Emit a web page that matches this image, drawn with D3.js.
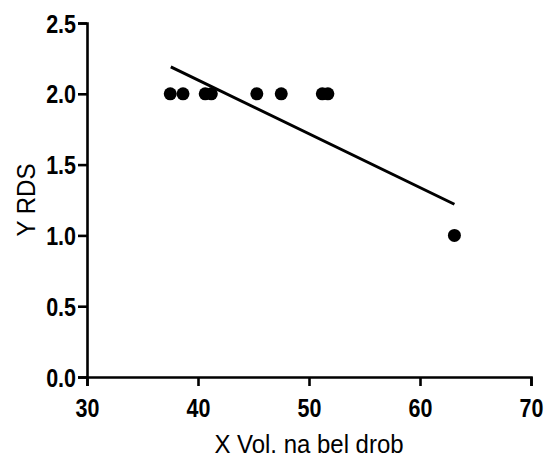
<!DOCTYPE html>
<html>
<head>
<meta charset="utf-8">
<script src="https://cdn.jsdelivr.net/npm/d3@7"></script>
<style>
  body { margin: 0; background: #fff; }
  text { font-family: "Liberation Sans", Arial, sans-serif; }
</style>
</head>
<body>
<svg id="mainsvg" width="545" height="461"></svg>
<script>
// data
const xVals = [37.5, 38.65, 40.65, 41.2, 45.3, 47.5, 51.2, 51.7, 63.1];
const yVals = [2, 2, 2, 2, 2, 2, 2, 2, 1];
const fitX = [37.55, 63.1];
const fitY = [2.19, 1.22];
const xTicks = [30, 40, 50, 60, 70];
const yTicks = [0, 0.5, 1, 1.5, 2, 2.5];

const svg = d3.select('#mainsvg');
const margin = { top: 23, right: 14, bottom: 84, left: 87 };
const width = +svg.attr('width');
const height = +svg.attr('height');
const innerWidth = width - margin.left - margin.right;
const innerHeight = height - margin.top - margin.bottom;
const squeeze = 0.86; // reference glyphs are narrow

const g = svg.append('g')
  .attr('transform', `translate(${margin.left}, ${margin.top})`);

const x = d3.scaleLinear().domain([30, 70]).range([0, innerWidth]);
const y = d3.scaleLinear().domain([0, 2.5]).range([innerHeight, 0]);

const xAxis = g.append('g')
  .attr('transform', `translate(0, ${innerHeight})`)
  .call(d3.axisBottom(x).tickValues(xTicks).tickSize(9).tickPadding(13).tickFormat(d3.format('d')));
const yAxis = g.append('g')
  .call(d3.axisLeft(y).tickValues(yTicks).tickSize(9).tickPadding(2).tickFormat(d3.format('.1f')));

[xAxis, yAxis].forEach(a => {
  a.select('.domain').attr('stroke', '#000').attr('stroke-width', 2.6);
  a.selectAll('.tick line').attr('stroke', '#000').attr('stroke-width', 2.6);
  a.selectAll('.tick text')
    .attr('fill', '#000')
    .style('font-size', '25px')
    .style('font-weight', 'bold')
    .attr('transform', `scale(${squeeze},1)`);
});
yAxis.selectAll('.tick text')
  .attr('dy', '0.36em')
  .attr('x', -11 / squeeze);

// fit line
g.append('line')
  .attr('x1', x(fitX[0])).attr('y1', y(fitY[0]))
  .attr('x2', x(fitX[1])).attr('y2', y(fitY[1]))
  .attr('stroke', '#000')
  .attr('stroke-width', 3);

// points
g.selectAll('circle')
  .data(xVals.map((v, i) => ({ x: v, y: yVals[i] })))
  .join('circle')
  .attr('cx', d => x(d.x))
  .attr('cy', d => y(d.y))
  .attr('r', 6.5)
  .attr('fill', '#000');

// axis titles
svg.append('text')
  .attr('transform', `translate(${margin.left + innerWidth / 2}, 453) scale(0.94,1)`)
  .attr('text-anchor', 'middle')
  .style('font-size', '25.5px')
  .text('X Vol. na bel drob');

svg.append('text')
  .attr('transform', `translate(35, ${margin.top + innerHeight / 2}) rotate(-90) scale(0.94,1)`)
  .attr('text-anchor', 'middle')
  .style('font-size', '25.5px')
  .text('Y RDS');
</script>
</body>
</html>
